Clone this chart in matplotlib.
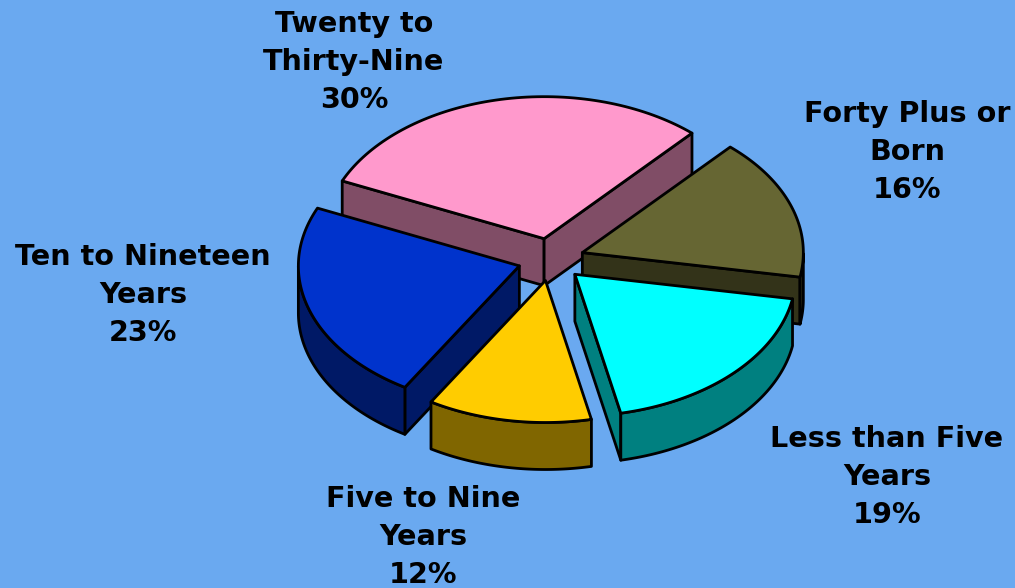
import numpy as np
import matplotlib
matplotlib.use("Agg")
import matplotlib.pyplot as plt
from matplotlib.patches import Polygon

categories = ["Twenty to\nThirty-Nine", "Forty Plus or\nBorn", "Less than Five\nYears",
              "Five to Nine\nYears", "Ten to Nineteen\nYears"]
values = [30, 16.1, 18.9, 12, 23]
percent_labels = ["30%", "16%", "19%", "12%", "23%"]
top_colors = ["#FF99CC", "#666633", "#00FFFF", "#FFCC00", "#0033CC"]
side_colors = ["#804D66", "#333319", "#008080", "#806600", "#001966"]
label_pos = [(354, 62), (907, 152), (887, 477), (423, 537), (143, 295)]
draw_order = [0, 1, 4, 2, 3]

BG = "#6AA9F0"
CX, CY, RX, RY = 551, 259.5, 221, 142
DEPTH = 47
EXPLODE = 0.15
START = 156.0

fig = plt.figure(figsize=(10.15, 5.88), dpi=100, facecolor=BG)
ax = fig.add_axes([0, 0, 1, 1])
ax.set_xlim(0, 1015)
ax.set_ylim(588, 0)
ax.axis("off")

fr = np.array(values) / sum(values) * 360
edges = START - np.concatenate([[0], np.cumsum(fr)])
LW = 2.0

def proj(u, v):
    return np.column_stack([CX + RX * np.asarray(u), CY - RY * np.asarray(v)])

def face(pts, color, z):
    ax.add_patch(Polygon(pts, closed=True, fc=color, ec="black", lw=LW, joinstyle="round", zorder=z))

for z, i in enumerate(draw_order):
    a0, a1 = edges[i], edges[i + 1]
    mid = np.radians((a0 + a1) / 2)
    ox, oy = EXPLODE * np.cos(mid), EXPLODE * np.sin(mid)
    t = np.radians(np.linspace(a0, a1, 80))
    rim = proj(ox + np.cos(t), oy + np.sin(t))
    apex = proj([ox], [oy])[0]
    down = np.array([0, DEPTH])
    base = z * 10
    # radial faces: visible only when the outward normal points down the screen
    for p, sign in ((rim[0], 1), (rim[-1], -1)):
        d = p - apex
        nrm = np.array([-d[1], d[0]]) * sign
        if nrm[1] * -1 > 0:
            face([apex, p, p + down, apex + down], side_colors[i], base + 1)
    # outer rim: the parts in the lower half of the ellipse
    vis = np.sin(t) < 0
    if vis.any():
        r = rim[vis]
        face(np.vstack([r, (r + down)[::-1]]), side_colors[i], base + 2)
    face(np.vstack([apex, rim]), top_colors[i], base + 3)

for lab, pct, (x, y) in zip(categories, percent_labels, label_pos):
    ax.text(x, y, f"{lab}\n{pct}", ha="center", va="center", multialignment="center",
            fontsize=20.6, fontweight="bold", family="DejaVu Sans", color="black",
            linespacing=1.47, zorder=100)

fig.savefig("out.png", dpi=100, facecolor=BG)
